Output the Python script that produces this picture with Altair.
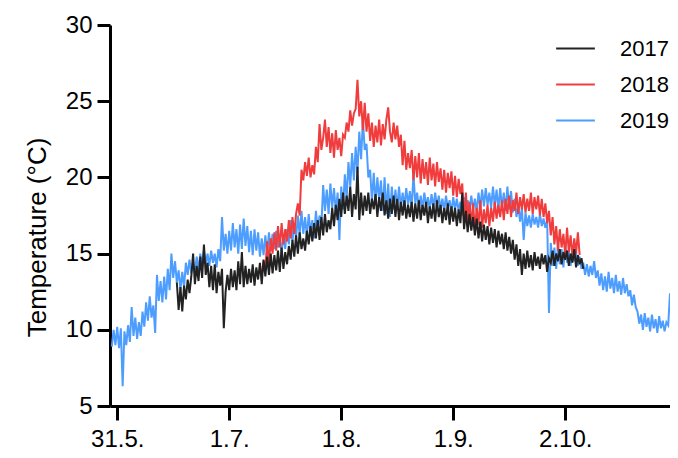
import altair as alt
import pandas as pd

# ---- data ----
years = ["2017", "2018", "2019"]
colors = ["#222222", "#f03c3c", "#4d9dff"]
step = 0.5  # days between readings
start_2017 = 16.5
start_2018 = 40.0
start_2019 = -1.5

tick_days = [0, 31, 62, 93, 124]
tick_labels = ["31.5.", "1.7.", "1.8.", "1.9.", "2.10."]
y_ticks = [5, 10, 15, 20, 25, 30]

temp_2019 = [
    8.9,
    10.0, 9.0, 10.2, 8.8, 10.1, 6.3, 9.9, 9.0, 10.3, 9.2,
    11.5, 9.6, 10.8, 9.4, 10.5, 9.6, 11.2, 10.2, 11.8, 10.6,
    12.2, 10.8, 11.6, 9.8, 13.6, 11.9, 13.2, 11.8, 13.5, 12.0,
    14.0, 12.6, 15.0, 13.4, 14.5, 13.1, 13.9, 12.6, 13.8, 12.8,
    14.4, 13.6, 14.6, 13.7, 14.3, 13.8, 14.8, 13.9, 15.0, 14.1,
    15.2, 14.3, 15.0, 14.2, 15.2, 14.4, 15.0, 14.1, 15.3, 14.5,
    17.4, 15.2, 16.3, 15.0, 16.5, 15.2, 17.0, 15.4, 16.6, 15.0,
    16.9, 15.3, 17.3, 15.5, 16.8, 15.1, 16.5, 14.9, 16.6, 15.2,
    16.4, 14.8, 16.0, 14.9, 16.2, 15.0, 16.4, 15.2, 16.3, 15.3,
    16.5, 15.4, 16.0, 15.0, 16.3, 15.3, 16.6, 15.6, 17.2, 15.8,
    17.0, 16.0, 17.5, 16.2, 17.8, 16.3, 17.4, 16.1, 17.6, 16.4,
    17.2, 16.0, 17.8, 16.5, 17.5, 16.8, 19.5, 17.8, 19.2, 17.6,
    19.6, 18.0, 19.3, 17.7, 19.0, 15.9, 19.4, 17.9, 20.2, 18.6,
    21.0, 19.4, 21.6, 19.8, 22.0, 20.3, 23.0, 21.2, 23.8, 21.8,
    22.2, 20.0, 20.5, 18.4, 20.3, 18.3, 20.0, 18.5, 19.8, 17.8,
    20.0, 17.6, 19.6, 17.4, 19.4, 17.9, 19.2, 18.0, 19.4, 18.0,
    19.0, 18.1, 19.3, 18.2, 19.1, 18.0, 20.2, 18.3, 19.0, 18.0,
    18.8, 17.9, 19.0, 18.1, 18.7, 17.9, 18.9, 18.0, 19.0, 18.1,
    18.8, 17.9, 18.6, 17.8, 18.8, 18.0, 18.5, 17.7, 18.7, 17.9,
    18.6, 17.8, 18.4, 17.5, 18.7, 17.6, 18.5, 17.8, 18.8, 17.9,
    18.6, 17.7, 19.0, 18.0, 19.2, 18.1, 19.3, 18.2, 19.0, 18.0,
    19.4, 18.1, 19.2, 17.9, 19.3, 18.0, 19.0, 17.8, 19.4, 17.9,
    19.1, 17.7, 18.6, 17.4, 18.2, 17.1, 18.0, 15.9, 17.7, 16.8,
    17.5, 16.7, 17.6, 16.9, 17.4, 16.7, 17.6, 16.8, 17.3, 16.7,
    17.2, 11.1, 15.7, 14.2, 15.4, 14.0, 15.6, 14.3, 15.3, 14.1,
    15.5, 14.4, 15.2, 14.2, 15.4, 14.5, 15.1, 14.2, 14.8, 14.0,
    14.4, 13.6, 14.3, 13.5, 14.2, 13.6, 14.5, 13.4, 13.9, 12.9,
    13.7, 12.6, 13.5, 12.5, 13.8, 12.7, 13.4, 12.4, 13.6, 12.5,
    13.2, 12.3, 13.4, 12.4, 13.0, 12.2, 12.6, 11.6, 12.3, 11.5,
    11.2, 10.4, 11.0, 10.0, 11.1, 10.2, 10.8, 9.9, 11.0, 10.1,
    10.7, 9.8, 10.9, 10.1, 10.6, 9.9, 10.5, 10.3, 12.4,
]

temp_2017 = [
    13.1,
    11.3, 12.8, 11.2, 12.9, 12.0, 13.3, 12.4, 13.5, 15.0, 13.0,
    14.2, 13.2, 14.8, 13.4, 15.6, 13.6, 14.4, 12.8, 14.2, 12.6,
    14.3, 12.4, 13.8, 12.9, 14.0, 10.1, 12.5, 13.6, 12.6, 14.0,
    12.8, 13.9, 12.6, 14.5, 13.0, 15.1, 12.8, 14.2, 13.0, 14.0,
    13.1, 14.3, 12.9, 14.1, 13.3, 14.4, 13.0, 14.6, 13.5, 14.8,
    13.6, 15.0, 13.7, 14.9, 13.9, 15.2, 13.8, 15.4, 14.0, 15.1,
    14.3, 15.5, 14.6, 15.9, 14.8, 16.2, 15.0, 16.4, 15.3, 16.0,
    15.2, 16.5, 15.6, 16.8, 15.8, 17.0, 16.0, 17.2, 15.9, 17.4,
    16.2, 17.6, 16.4, 17.2, 16.6, 18.0, 16.8, 18.2, 17.2, 18.6,
    17.4, 19.0, 17.6, 18.8, 17.8, 19.4, 17.4, 18.9, 17.9, 20.7,
    17.2, 19.0, 17.5, 18.8, 17.8, 19.0, 17.6, 18.6, 17.9, 18.9,
    17.4, 18.7, 17.8, 19.0, 17.5, 18.5, 17.3, 18.6, 17.6, 18.8,
    17.4, 18.6, 17.2, 18.4, 17.5, 18.5, 17.3, 18.2, 17.4, 18.4,
    17.1, 18.3, 17.3, 18.5, 17.2, 18.2, 17.5, 18.4, 17.0, 18.1,
    17.3, 18.3, 17.1, 18.5, 17.4, 18.2, 17.0, 18.0, 17.2, 18.3,
    16.9, 18.1, 17.1, 18.0, 16.8, 17.9, 17.0, 19.0, 16.6, 17.8,
    16.4, 17.6, 16.5, 17.4, 16.2, 17.3, 16.0, 17.1, 15.8, 16.9,
    15.9, 16.8, 15.6, 16.7, 15.7, 16.6, 15.4, 16.5, 15.6, 16.3,
    15.3, 16.4, 15.2, 16.1, 15.0, 15.9, 14.6, 15.6, 14.2, 15.3,
    13.6, 15.0, 14.0, 15.2, 14.1, 14.9, 13.9, 15.1, 14.2, 14.8,
    14.0, 15.0, 14.3, 14.9, 13.8, 14.7, 14.4, 15.2, 14.2, 15.0,
    14.5, 15.3, 14.3, 15.1, 14.6, 15.2, 14.2, 15.0, 14.4, 15.3,
    14.1, 14.9, 14.3, 14.7, 14.0,
]

temp_2018 = [
    13.7, 14.5, 14.0, 15.8, 14.3, 16.0, 15.0, 16.4, 15.2, 16.8,
    15.4, 17.0, 15.6, 16.6, 15.8, 17.2, 16.0, 17.4, 16.3, 17.6,
    18.3, 17.5, 20.5, 19.8, 21.0, 20.1, 21.3, 20.0, 20.8, 20.2,
    22.0, 21.0, 23.5, 21.8, 22.6, 23.8, 22.0, 23.3, 21.6, 22.9,
    21.3, 23.1, 21.8, 22.6, 21.4, 22.8, 22.6, 23.6, 23.0, 24.4,
    23.4, 24.2, 24.5, 26.4, 24.0, 25.0, 23.1, 24.9, 23.0, 24.2,
    22.4, 23.6, 22.0, 23.4, 22.3, 23.8, 22.1, 23.5, 22.5, 23.8,
    24.6, 23.0, 22.3, 23.6, 22.5, 23.4, 22.0, 22.8, 20.8, 22.4,
    20.5, 21.6, 20.6, 21.8, 19.8, 21.4, 20.0, 21.6, 19.6, 21.2,
    19.9, 21.0, 19.5, 21.3, 19.8, 20.9, 19.4, 21.0, 19.7, 20.6,
    19.2, 20.5, 19.0, 20.3, 19.3, 20.4, 18.8, 20.1, 18.7, 19.9,
    18.9, 19.6, 17.0, 19.0, 17.2, 18.4, 16.8, 18.3, 16.6, 18.0,
    16.9, 18.5, 16.7, 17.9, 17.0, 18.2, 16.8, 18.0, 17.1, 18.4,
    17.3, 18.2, 17.4, 18.5, 17.2, 18.6, 17.6, 18.8, 17.4, 18.5,
    17.8, 19.0, 17.6, 18.7, 17.9, 18.9, 17.7, 18.6, 17.8, 19.0,
    17.6, 18.7, 17.9, 18.8, 17.5, 18.6, 17.4, 18.3, 17.0, 17.8,
    16.2, 17.4, 15.6, 16.8, 15.2, 16.6, 15.4, 16.3, 14.9, 16.7,
    15.1, 16.2, 14.8, 16.0, 15.0, 16.4, 14.9,
]


def frame(year, start, vals):
    return pd.DataFrame({
        "day": [start + step * i for i in range(len(vals))],
        "temp": vals,
        "year": year,
    })


df17 = frame("2017", start_2017, temp_2017)
df18 = frame("2018", start_2018, temp_2018)
df19 = frame("2019", start_2019, temp_2019)

label_expr = "".join(
    f"datum.value == {d} ? '{l}' : " for d, l in zip(tick_days, tick_labels)
) + "''"

FONT = "Liberation Sans"

x_enc = alt.X(
    "day:Q",
    scale=alt.Scale(domain=[-2, 153], nice=False, zero=False),
    axis=alt.Axis(values=tick_days, labelExpr=label_expr, title=None,
                  labelPadding=7, tickSize=14),
)
y_enc = alt.Y(
    "temp:Q",
    scale=alt.Scale(domain=[5, 30], nice=False, zero=False),
    axis=alt.Axis(values=y_ticks, title="Temperature (°C)", tickSize=13,
                  labelPadding=5, titleFontSize=26, titleFontWeight="normal",
                  titleFont=FONT, titleX=-73, titleY=212,
                  titleBaseline="middle", titleColor="black"),
)
color_enc = alt.Color(
    "year:N",
    scale=alt.Scale(domain=years, range=colors),
    legend=alt.Legend(
        title=None, orient="none", legendX=445, legendY=3,
        symbolType="stroke", symbolSize=1500, symbolStrokeWidth=1.8,
        labelFontSize=22, labelFont=FONT, labelColor="black",
        labelOffset=24, padding=0, rowPadding=4,
    ),
)


def layer(df):
    return alt.Chart(df).mark_line(strokeWidth=2, clip=True).encode(
        x=x_enc, y=y_enc, color=color_enc
    )


chart = alt.layer(layer(df19), layer(df18), layer(df17)).properties(
    width=560,
    height=381,
    autosize=alt.AutoSizeParams(type="none"),
    padding={"left": 102, "top": 17, "right": 0, "bottom": 50},
).configure_view(stroke=None).configure_axis(
    domainWidth=3, domainColor="black", tickWidth=3, tickColor="black",
    labelFontSize=24, labelFont=FONT, labelColor="black", grid=False,
)

chart.save("out.html", embed_options={"renderer": "svg", "actions": False})
